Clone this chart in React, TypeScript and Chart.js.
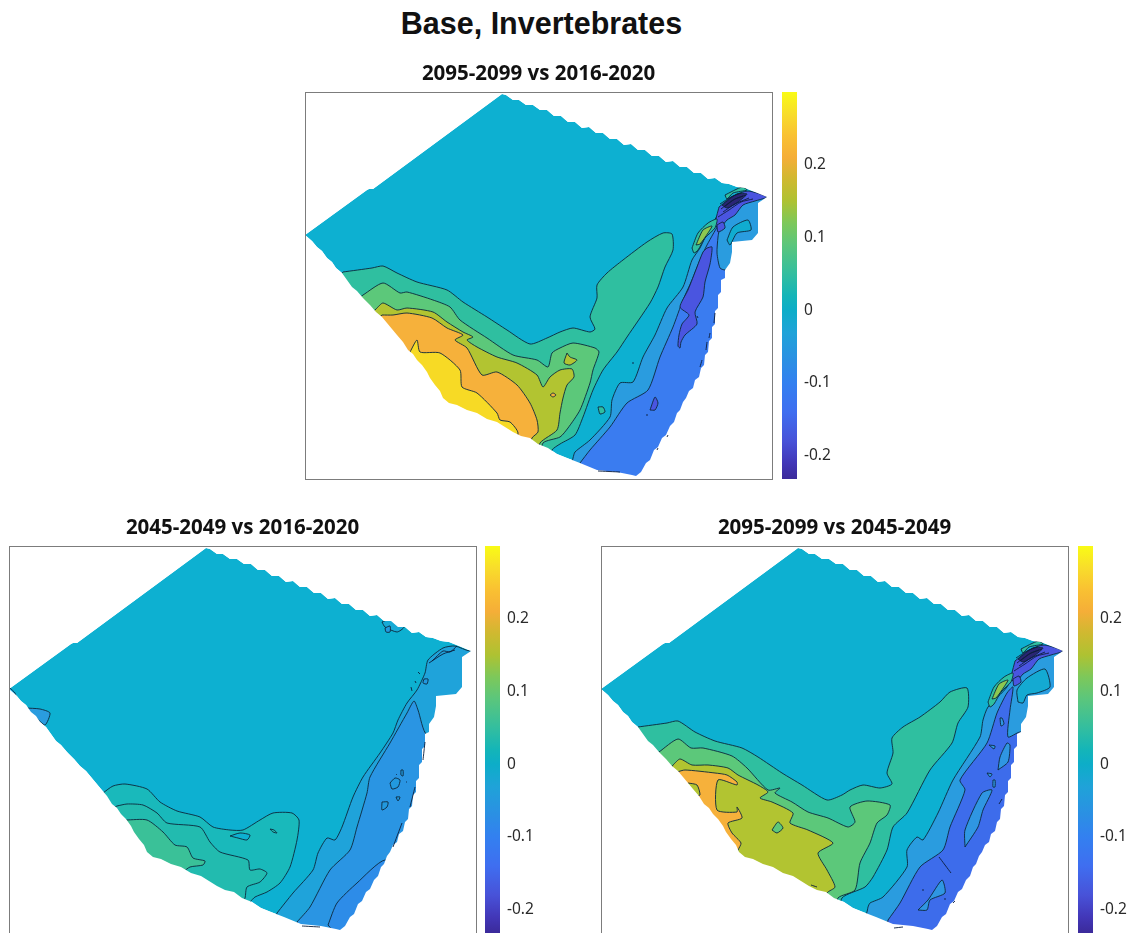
import React, { useEffect, useRef } from "react";
import { Chart, registerables } from "chart.js";

Chart.register(...registerables);

type P = [number, number];

const mainTitle = "Base, Invertebrates";
const titleTop = "2095-2099 vs 2016-2020";
const titleLeft = "2045-2049 vs 2016-2020";
const titleRight = "2095-2099 vs 2045-2049";

const colorTicks = [-0.2, -0.1, 0, 0.1, 0.2];
const colorMin = -0.232;
const colorMax = 0.3;
const colorStops: [number, string][] = [
  [0.3, "#F9FB15"], [0.27, "#F8DD2B"], [0.24, "#F9C132"], [0.21, "#F5AE38"], [0.18, "#CFB930"],
  [0.15, "#AEC232"], [0.12, "#7DC85A"], [0.09, "#5BC67C"], [0.05, "#33BE9F"], [0.02, "#14B5B8"],
  [0, "#0DADC8"], [-0.03, "#1FA3D8"], [-0.07, "#2B8FE4"], [-0.1, "#3380F0"], [-0.14, "#3F6EF0"],
  [-0.18, "#4852D8"], [-0.21, "#4237B8"], [-0.232, "#3B2A9A"],
];

const BASE = "#0DB0D1";
const TEAL = "#2FBFA0";
const GREEN = "#5CC87A";
const OLIVE = "#B2C431";
const ORANGE = "#F6B13B";
const YELLOW = "#F7DA25";
const BLUE1 = "#2A9CDF";
const BLUE2 = "#3A7CF0";
const BLUE2C = "#3D6CEB";
const INDIGO = "#4A55E0";
const DARK = "#2A2575";

const boundary: P[] = [
  [0, 143], [62, 98], [64, 97], [68, 97], [197, 2], [201, 3], [208, 8], [214, 8], [221, 13], [228, 13], [235, 18],
  [242, 18], [249, 24], [256, 24], [263, 30], [270, 30], [277, 36], [284, 35], [291, 41], [298, 41], [305, 47],
  [312, 47], [319, 53], [326, 52], [333, 58], [340, 58], [347, 64], [354, 64], [361, 70], [368, 69], [375, 75],
  [382, 75], [389, 81], [396, 81], [403, 87], [410, 86], [417, 91], [424, 92], [432, 95], [440, 96], [450, 100],
  [462, 105], [453, 111], [453, 141], [447, 148], [427, 150], [427, 160], [425, 171], [420, 178], [420, 186],
  [416, 188], [416, 200], [413, 203], [413, 216], [410, 219], [410, 232], [407, 235], [407, 246], [404, 249],
  [403, 260], [400, 263], [399, 273], [396, 276], [394, 285], [390, 288], [388, 296], [384, 299], [381, 306],
  [378, 310], [375, 318], [372, 321], [369, 330], [365, 334], [361, 343], [357, 346], [353, 355], [349, 358],
  [345, 368], [341, 371], [336, 380], [331, 384], [327, 383], [312, 380], [292, 378], [275, 371], [262, 366],
  [252, 362], [243, 356], [233, 352], [225, 346], [216, 344], [208, 340], [200, 335], [192, 330], [182, 327],
  [172, 321], [162, 318], [152, 313], [144, 311], [138, 306], [135, 299], [130, 293], [125, 286], [122, 280],
  [117, 273], [112, 268], [108, 262], [103, 258], [98, 250], [92, 243], [87, 237], [82, 231], [77, 225],
  [71, 220], [65, 213], [58, 206], [52, 199], [47, 195], [42, 188], [37, 181], [31, 176], [27, 170], [22, 166],
  [17, 159], [12, 155], [7, 149], [0, 143],
];

const outerRing: P[] = [[-10, 143], [-10, -10], [480, -10], [480, 400], [-10, 400], [-10, 143]];

/* Shared north-east corner */
const tipTealBand: P[] = [[420, 103], [437, 95], [442, 98], [428, 101], [422, 107]];
const tipIndigo: P[] = [[414, 115], [428, 104], [443, 99], [462, 105], [450, 109], [438, 113], [430, 123], [422, 128], [415, 136], [410, 133]];
const tipDark: P[] = [[417, 113], [432, 102], [442, 102], [433, 110], [422, 116]];
const tipWrap: P[] = [[387, 156], [393, 141], [403, 131], [412, 127], [410, 136], [400, 146], [393, 158], [389, 161]];
const tipOlive: P[] = [[391, 153], [398, 138], [407, 134], [403, 141], [395, 152]];
const tipLoop: P[] = [[412, 133], [418, 130], [420, 136], [413, 140]];
const tipLines: P[][] = [
  [[416, 117], [428, 108], [438, 104]],
  [[418, 120], [430, 112], [444, 106]],
  [[413, 125], [424, 118], [436, 110], [448, 107]],
  [[415, 112], [426, 105], [436, 101]],
  [[419, 115], [430, 107], [441, 103]],
];

/* Panel 1: 2095-2099 vs 2016-2020 */
const topTeal: P[] = [[38, 180], [67, 176], [78, 174], [92, 181], [112, 190], [142, 198], [158, 210], [182, 225], [202, 238], [225, 252], [242, 246], [255, 240], [268, 236], [285, 240], [290, 237], [285, 225], [292, 206], [292, 193], [302, 181], [318, 168], [342, 150], [358, 141], [367, 142], [368, 158], [360, 175], [353, 195], [345, 211], [322, 245], [312, 260], [298, 278], [288, 298], [278, 325], [270, 343], [255, 352], [247, 358], [240, 380], [100, 330], [20, 200]];
const topGreen: P[] = [[58, 203], [78, 191], [95, 201], [102, 200], [128, 208], [145, 215], [155, 228], [182, 246], [208, 263], [232, 268], [243, 275], [247, 261], [255, 256], [268, 251], [290, 256], [294, 260], [288, 278], [285, 291], [275, 318], [263, 336], [255, 345], [238, 351], [232, 375], [100, 330], [40, 220]];
const topOlive: P[] = [[71, 217], [78, 211], [92, 218], [102, 216], [128, 220], [142, 230], [158, 240], [168, 245], [162, 248], [172, 255], [192, 265], [212, 271], [232, 283], [238, 295], [245, 285], [255, 278], [267, 277], [269, 285], [262, 293], [258, 306], [255, 321], [252, 338], [235, 351], [230, 372], [100, 330], [55, 235]];
const topOliveIsle: P[] = [[262, 261], [265, 265], [272, 268], [265, 273], [259, 271]];
const topOrangeDot: P[] = [[245, 303], [248, 301], [251, 303], [248, 305]];
const topOrange: P[] = [[77, 223], [88, 223], [102, 221], [127, 226], [142, 236], [158, 243], [150, 248], [162, 256], [177, 283], [192, 280], [212, 293], [225, 311], [232, 328], [233, 340], [227, 346], [220, 370], [100, 320], [60, 240]];
const topYellow: P[] = [[105, 260], [112, 248], [115, 260], [135, 261], [155, 278], [157, 295], [172, 301], [192, 321], [195, 328], [205, 330], [213, 341], [205, 360], [100, 290]];
const topTealIslet: P[] = [[293, 315], [298, 315], [300, 320], [295, 322]];
const topBlue: P[] = [[268, 366], [270, 360], [285, 348], [305, 325], [307, 308], [315, 291], [328, 290], [338, 265], [350, 243], [362, 216], [378, 195], [387, 168], [395, 156], [405, 135], [415, 120], [425, 106], [445, 100], [462, 105], [480, 100], [480, 400], [262, 400]];
const topHole: P[] = [[422, 148], [428, 135], [443, 128], [446, 138], [432, 141], [425, 153]];
const topBlue2: P[] = [[275, 371], [285, 358], [305, 335], [322, 311], [343, 298], [355, 265], [368, 235], [378, 208], [387, 188], [395, 168], [402, 153], [415, 131], [413, 145], [412, 161], [415, 176], [420, 178], [480, 178], [480, 400], [270, 400]];
const topIndigo: P[] = [[402, 156], [407, 155], [405, 172], [400, 190], [398, 205], [390, 220], [392, 232], [380, 243], [376, 250], [375, 256], [373, 254], [374, 243], [377, 232], [384, 223], [375, 215], [383, 198], [392, 175], [398, 160]];
const topIndigoIsle: P[] = [[345, 318], [350, 305], [353, 311], [350, 318]];
const topEdgeLines: P[][] = [
  [[410, 221], [409, 231]], [[405, 241], [404, 246]], [[402, 250], [401, 258]], [[397, 268], [395, 275]],
  [[363, 343], [362, 345]], [[353, 356], [352, 358]], [[293, 379], [315, 380]], [[327, 271], [329, 271]],
  [[341, 323], [343, 323]], [[392, 224], [393, 226]],
];

/* Panel 2: 2045-2049 vs 2016-2020 */
const leftTeal1: P[] = [[94, 247], [104, 240], [116, 238], [138, 243], [151, 256], [168, 265], [191, 271], [204, 281], [221, 284], [234, 284], [251, 274], [264, 267], [283, 267], [290, 274], [288, 294], [281, 321], [271, 337], [258, 346], [246, 351], [241, 356], [235, 362], [100, 330], [70, 260]];
const leftTeal2: P[] = [[108, 260], [118, 258], [134, 259], [148, 267], [158, 277], [191, 281], [201, 296], [211, 306], [239, 314], [241, 324], [251, 323], [258, 327], [251, 336], [238, 341], [236, 352], [232, 358], [100, 320], [90, 270]];
const leftTeal3: P[] = [[117, 274], [138, 274], [154, 286], [166, 299], [178, 301], [184, 312], [196, 315], [194, 319], [181, 321], [175, 326], [170, 345], [100, 300]];
const leftHole: P[] = [[221, 290], [231, 287], [241, 289], [238, 294], [229, 292]];
const leftDot: P[] = [[261, 283], [265, 284], [268, 287], [264, 286]];
const leftBlueA: P[] = [[1, 142], [6, 147], [7, 151], [0, 147], [-5, 147]];
const leftBlueB: P[] = [[16, 162], [31, 163], [41, 167], [36, 179], [26, 172], [10, 180]];
const leftBlueTop: P[] = [[373, 76], [376, 81], [388, 86], [395, 81], [390, 70]];
const leftBlue: P[] = [[268, 367], [284, 347], [304, 324], [309, 307], [318, 292], [326, 294], [333, 281], [344, 251], [354, 231], [371, 207], [384, 187], [389, 174], [398, 157], [408, 144], [416, 127], [419, 114], [434, 102], [446, 100], [461, 105], [480, 100], [480, 400], [262, 400]];
const leftBlue2: P[] = [[288, 376], [301, 361], [321, 324], [341, 304], [348, 281], [358, 247], [361, 231], [381, 197], [398, 167], [405, 155], [409, 164], [418, 189], [460, 200], [460, 400], [290, 400]];
const leftBlue3: P[] = [[319, 379], [328, 357], [348, 337], [376, 314], [400, 330], [340, 400]];
const leftIsles: P[][] = [
  [[381, 237], [386, 232], [391, 234], [389, 241], [383, 243]],
  [[387, 251], [391, 251], [389, 255]],
  [[373, 256], [379, 256], [378, 261], [373, 264]],
  [[392, 224], [394, 224], [394, 230], [392, 229]],
  [[415, 133], [419, 133], [418, 138], [414, 137]],
  [[376, 82], [381, 80], [381, 86], [377, 86]],
];
const leftEdgeLines: P[][] = [
  [[416, 196], [414, 214]], [[406, 241], [401, 261]], [[393, 277], [384, 301]], [[293, 380], [311, 381]],
  [[409, 126], [411, 128]], [[406, 135], [407, 137]], [[402, 141], [403, 145]], [[387, 228], [388, 229]], [[397, 236], [398, 236]],
  [[420, 117], [434, 108], [446, 104]], [[423, 115], [434, 105], [441, 106], [448, 100]],
];

/* Panel 3: 2095-2099 vs 2045-2049 */
const rightTeal: P[] = [[37, 181], [66, 177], [77, 175], [94, 186], [114, 195], [141, 202], [157, 211], [181, 227], [201, 239], [226, 254], [241, 249], [249, 244], [262, 239], [279, 242], [291, 238], [286, 227], [292, 207], [291, 192], [302, 181], [319, 171], [339, 156], [349, 146], [366, 142], [367, 161], [357, 177], [351, 197], [329, 224], [306, 267], [292, 281], [286, 304], [272, 331], [264, 341], [241, 352], [235, 380], [100, 330], [20, 200]];
const rightGreen: P[] = [[58, 206], [77, 193], [90, 202], [102, 202], [131, 210], [146, 222], [167, 244], [179, 242], [174, 247], [191, 256], [207, 266], [227, 272], [247, 281], [254, 276], [249, 261], [266, 255], [289, 259], [286, 269], [276, 277], [269, 297], [259, 317], [254, 344], [237, 352], [232, 375], [100, 330], [40, 220]];
const rightOlive: P[] = [[72, 219], [79, 213], [91, 219], [107, 219], [127, 222], [137, 229], [157, 239], [167, 246], [159, 252], [171, 256], [192, 267], [189, 277], [207, 284], [232, 297], [217, 307], [226, 324], [234, 341], [226, 347], [222, 370], [100, 330], [60, 240]];
const rightOrange: P[] = [[76, 226], [84, 224], [114, 227], [126, 229], [136, 236], [136, 239], [117, 234], [116, 264], [136, 266], [136, 261], [141, 272], [127, 277], [131, 287], [140, 297], [137, 304], [130, 320], [60, 240]];
const rightOliveIsle: P[] = [[87, 237], [96, 239], [99, 249], [94, 250], [75, 255]];
const rightGreenIsle: P[] = [[171, 284], [177, 276], [182, 282], [176, 287]];
const rightBlue: P[] = [[267, 361], [269, 357], [282, 351], [306, 321], [306, 304], [316, 291], [322, 294], [337, 267], [352, 234], [379, 191], [382, 174], [387, 161], [406, 141], [416, 117], [436, 101], [462, 106], [480, 100], [480, 400], [262, 400]];
const rightHole: P[] = [[417, 156], [416, 144], [426, 132], [444, 123], [449, 141], [436, 147], [426, 149], [422, 157]];
const rightBlue2: P[] = [[287, 374], [299, 357], [319, 321], [342, 304], [349, 281], [364, 244], [359, 234], [386, 197], [396, 167], [406, 147], [412, 141], [409, 164], [407, 191], [419, 186], [480, 186], [480, 400], [285, 400]];
const rightLightIsles: P[][] = [
  [[364, 301], [364, 284], [381, 247], [391, 244], [382, 264], [377, 281]],
  [[397, 224], [399, 211], [406, 197], [409, 199], [407, 216]],
  [[317, 364], [327, 354], [341, 334], [344, 347], [329, 354], [326, 364]],
  [[399, 172], [401, 172], [403, 178], [400, 180]],
  [[388, 199], [394, 200], [393, 203]],
  [[386, 227], [391, 228], [389, 231]],
  [[392, 234], [394, 234], [394, 241], [392, 241]],
];
const rightEdgeLines: P[][] = [
  [[401, 253], [398, 258]], [[343, 353], [345, 353]], [[352, 357], [354, 355]], [[293, 382], [302, 381]],
  [[321, 344], [323, 344]], [[338, 311], [350, 327]], [[210, 339], [216, 341]],
];

type Layer = { pts: P[]; fill?: string; noStroke?: boolean };

const pts = (list: P[]) => list.map(([x, y]) => ({ x, y }));

const shared = (): Layer[] => [
  { pts: tipTealBand, fill: TEAL },
  { pts: tipIndigo, fill: INDIGO },
  { pts: tipDark, fill: DARK },
  { pts: tipWrap, fill: TEAL },
  { pts: tipOlive, fill: "#8CC850" },
  { pts: tipLoop, fill: INDIGO },
];

const topLayers: Layer[] = [
  { pts: boundary, fill: BASE, noStroke: true },
  { pts: topTeal, fill: TEAL },
  { pts: topGreen, fill: GREEN },
  { pts: topOlive, fill: OLIVE },
  { pts: topOliveIsle, fill: OLIVE },
  { pts: topOrangeDot, fill: ORANGE },
  { pts: topOrange, fill: ORANGE },
  { pts: topYellow, fill: YELLOW },
  { pts: topTealIslet, fill: TEAL },
  { pts: topBlue, fill: BLUE1 },
  { pts: topHole, fill: "#10ACD0" },
  { pts: topBlue2, fill: BLUE2 },
  { pts: topIndigo, fill: INDIGO },
  { pts: topIndigoIsle, fill: INDIGO },
  ...shared(),
];
const leftLayers: Layer[] = [
  { pts: boundary, fill: BASE, noStroke: true },
  { pts: leftTeal1, fill: "#19B9BB" },
  { pts: leftTeal2, fill: "#22BBAF" },
  { pts: leftTeal3, fill: "#3AC198" },
  { pts: leftHole, fill: BASE },
  { pts: leftDot, fill: "#22BBAF" },
  { pts: leftBlueA, fill: "#1FA5DA" },
  { pts: leftBlueB, fill: "#2A9CDF" },
  { pts: leftBlueTop, fill: "#17AAD6" },
  { pts: leftBlue, fill: "#1FA3DA" },
  { pts: leftBlue2, fill: "#2A95E3" },
  { pts: leftBlue3, fill: "#2D8CE8" },
  ...leftIsles.map((p) => ({ pts: p, fill: "#2299DF" })),
];
const rightLayers: Layer[] = [
  { pts: boundary, fill: BASE, noStroke: true },
  { pts: rightTeal, fill: TEAL },
  { pts: rightGreen, fill: GREEN },
  { pts: rightOlive, fill: OLIVE },
  { pts: rightOrange, fill: ORANGE },
  { pts: rightOliveIsle, fill: OLIVE },
  { pts: rightGreenIsle, fill: GREEN },
  { pts: rightBlue, fill: BLUE1 },
  { pts: rightHole, fill: "#14AAD2" },
  { pts: rightBlue2, fill: BLUE2C },
  ...rightLightIsles.map((p) => ({ pts: p, fill: "#2F96E2" })),
  ...shared(),
];

const MAP_W = 467;
const MAP_H = 387;
const TITLE_H = 30;

const frame = {
  id: "frame",
  afterDraw(chart: any) {
    const { ctx, chartArea: a } = chart;
    ctx.save();
    ctx.strokeStyle = "#7c7c7c";
    ctx.lineWidth = 1;
    ctx.strokeRect(a.left + 0.5, a.top + 0.5, a.right - a.left, a.bottom - a.top);
    ctx.restore();
  },
};

function makeDatasets(layers: Layer[], edgeLines: P[][], withTipLines: boolean) {
  const ds: any[] = [];
  layers.forEach((l) => {
    const closed = [...l.pts, l.pts[0]];
    ds.push({
      data: pts(closed),
      showLine: true,
      tension: l.noStroke ? 0 : 0.22,
      pointRadius: 0,
      fill: "shape",
      backgroundColor: l.fill,
      borderColor: l.noStroke ? "rgba(0,0,0,0)" : "rgba(12,40,60,0.9)",
      borderWidth: l.noStroke ? 0 : 1,
      borderJoinStyle: "round",
    });
  });
  const mask = [...outerRing, ...[...boundary].reverse(), outerRing[0]];
  ds.push({
    data: pts(mask),
    showLine: true,
    tension: 0,
    pointRadius: 0,
    fill: "shape",
    backgroundColor: "#ffffff",
    borderColor: "rgba(0,0,0,0)",
    borderWidth: 0,
  });
  const lines = withTipLines ? [...edgeLines, ...tipLines] : edgeLines;
  lines.forEach((l) => {
    ds.push({
      data: pts(l),
      showLine: true,
      tension: 0.2,
      pointRadius: 0,
      fill: false,
      borderColor: "rgba(12,30,60,0.9)",
      borderWidth: 1,
    });
  });
  return ds.map((d, i) => ({ ...d, order: ds.length - i }));
}

function MapPanel(props: { left: number; top: number; title: string; layers: Layer[]; edges: P[][]; tip: boolean }) {
  const ref = useRef<HTMLCanvasElement | null>(null);
  useEffect(() => {
    const chart = new Chart(ref.current as HTMLCanvasElement, {
      type: "scatter",
      data: { datasets: makeDatasets(props.layers, props.edges, props.tip) },
      plugins: [frame],
      options: {
        animation: false,
        responsive: false,
        layout: { padding: { left: 1, right: 1, bottom: 1, top: 0 } },
        plugins: {
          legend: { display: false },
          tooltip: { enabled: false },
          title: {
            display: true,
            text: props.title,
            color: "#111",
            font: { family: "'Open Sans'", weight: "bold", size: 20.5, lineHeight: 1 },
            padding: { top: 1.5, bottom: 8 },
          },
        },
        scales: {
          x: { type: "linear", display: false, min: 0, max: MAP_W },
          y: { type: "linear", display: false, min: 0, max: MAP_H, reverse: true },
        },
      } as any,
    });
    return () => chart.destroy();
  }, []);
  return (
    <canvas
      ref={ref}
      width={MAP_W + 2}
      height={MAP_H + TITLE_H + 1}
      style={{ position: "absolute", left: props.left - 1, top: props.top - TITLE_H, display: "block", filter: "blur(0.4px)" }}
    />
  );
}

function ColorBar(props: { left: number; top: number }) {
  const ref = useRef<HTMLCanvasElement | null>(null);
  useEffect(() => {
    const chart = new Chart(ref.current as HTMLCanvasElement, {
      type: "bar",
      data: {
        labels: ["colorbar"],
        datasets: [
          {
            data: [[colorMin, colorMax]],
            barPercentage: 1,
            categoryPercentage: 1,
            borderWidth: 0,
            backgroundColor: (c: any) => {
              const y = c.chart.scales.y;
              const a = c.chart.chartArea;
              if (!y || !a) return "#0DADC8";
              const g = c.chart.ctx.createLinearGradient(0, a.top, 0, a.bottom);
              colorStops.forEach(([v, col]) => g.addColorStop((colorMax - v) / (colorMax - colorMin), col));
              return g;
            },
          },
        ],
      } as any,
      options: {
        animation: false,
        responsive: false,
        layout: { padding: 0 },
        plugins: { legend: { display: false }, tooltip: { enabled: false } },
        scales: {
          x: { display: false },
          y: {
            position: "right",
            min: colorMin,
            max: colorMax,
            afterBuildTicks: (s: any) => {
              s.ticks = colorTicks.map((value) => ({ value }));
            },
            afterFit: (s: any) => {
              s.width = 45;
              s.paddingTop = 0;
              s.paddingBottom = 0;
            },
            border: { display: false },
            grid: { drawOnChartArea: false, drawTicks: true, tickLength: -3, tickColor: "#444", lineWidth: 1 },
            ticks: {
              color: "#2a2a2a",
              padding: 10,
              font: { family: "'Noto Sans'", size: 15.5 },
              callback: (v: any) => String(Math.round(Number(v) * 10) / 10),
            },
          },
        },
      } as any,
    });
    return () => chart.destroy();
  }, []);
  return (
    <canvas
      ref={ref}
      width={60}
      height={MAP_H}
      style={{ position: "absolute", left: props.left, top: props.top, display: "block", filter: "blur(0.4px)" }}
    />
  );
}

export default function App() {
  useEffect(() => {
    document.body.style.margin = "0";
    document.body.style.background = "#fff";
    document.body.style.overflow = "hidden";
  }, []);
  return (
    <div style={{ position: "relative", width: 1135, height: 933, overflow: "hidden", background: "#fff" }}>
      <div
        style={{
          position: "absolute",
          left: 0,
          top: 5,
          width: 1083,
          textAlign: "center",
          fontFamily: "'Liberation Sans'",
          fontWeight: 700,
          fontSize: 30.5,
          lineHeight: "36px",
          color: "#111",
        }}
      >
        {mainTitle}
      </div>
      <MapPanel left={305} top={92} title={titleTop} layers={topLayers} edges={topEdgeLines} tip />
      <ColorBar left={782} top={92} />
      <MapPanel left={9} top={546} title={titleLeft} layers={leftLayers} edges={leftEdgeLines} tip={false} />
      <ColorBar left={485} top={546} />
      <MapPanel left={601} top={546} title={titleRight} layers={rightLayers} edges={rightEdgeLines} tip />
      <ColorBar left={1078} top={546} />
    </div>
  );
}
